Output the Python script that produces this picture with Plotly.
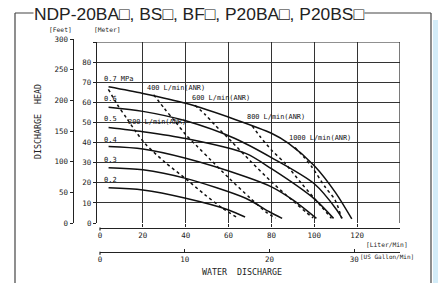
import plotly.graph_objects as go

# ---------------- data (L/min , metre) ----------------
p07_flow = [4, 20, 40, 63, 80, 88, 100, 110, 117.5]
p07_head = [67.7, 64.4, 59.5, 51.5, 44.6, 39.6, 28.5, 15, 2]
p06_flow = [4, 20, 40, 63, 80, 100, 110.5, 113]
p06_head = [57.5, 55.5, 50.8, 42, 32.5, 19.5, 6.5, 2.3]
p05_flow = [4, 20, 40, 68, 80, 100, 109]
p05_head = [47.5, 45.4, 42, 34.6, 27, 12, 2.3]
p04_flow = [4, 20, 40, 68, 80, 90, 101]
p04_head = [38, 36.8, 32.2, 23, 18, 11.5, 2.3]
p03_flow = [4, 20, 40, 68, 79, 85]
p03_head = [27.5, 26.5, 22.2, 12.3, 5.6, 2.3]
p02_flow = [4, 20, 40, 60, 67.7]
p02_head = [17.5, 16.4, 12.3, 6.5, 3]

a200_flow = [3.9, 8, 12.5, 17, 21, 30, 40, 49, 57, 63.5]
a200_head = [66.5, 59, 52, 45, 39.5, 30.5, 22, 14, 7.5, 3]
a400_flow = [25, 30, 35, 40, 45, 52, 60, 70, 78, 82]
a400_head = [63.8, 57, 50.5, 44, 38.5, 31, 22.5, 12.5, 5, 2.5]
a600_flow = [44.3, 49, 53.7, 61.5, 70, 80, 90, 96, 99.5]
a600_head = [58.5, 54, 48.7, 40.4, 31, 20.5, 11, 5.5, 2.5]
a800_flow = [71, 74.7, 80, 86.3, 94, 103.4, 108]
a800_head = [48.3, 43, 36.3, 29.7, 19.7, 8.1, 2.3]
a1000_flow = [91, 95, 98.8, 105, 109.7, 112.8]
a1000_head = [37.5, 33, 28, 18, 11.4, 2.3]

pressure_labels = ["0.7 MPa", "0.6", "0.5", "0.4", "0.3", "0.2"]
pressure_label_head = [70, 60, 50, 40, 30, 20]
air_labels = ["200 L/min(ANR)", "400 L/min(ANR)", "600 L/min(ANR)",
              "800 L/min(ANR)", "1000 L/min(ANR)"]
air_label_flow = [12.1, 21, 42, 67.7, 87.3]
air_label_head = [50.4, 67.1, 62, 52.9, 42.1]

meter_ticks = [0, 10, 20, 30, 40, 50, 60, 70, 80, 90]
feet_ticks = [0, 50, 100, 150, 200, 250, 300]
lpm_ticks = [0, 20, 40, 60, 80, 100, 120, 140]
gpm_ticks = [0, 10, 20, 30]
title_text = "NDP-20BA□, BS□, BF□, P20BA□, P20BS□"

# ---------------- geometry helpers ----------------
W, H = 438, 283

def px(x):
    return x / W

def py(y):
    return 1 - y / H

Y0, Y90 = 223.0, 42.0
pxm = (Y0 - Y90) / 90.0
y_feet_top = Y0 - 300 * 0.3048 * pxm
INK = "#111111"
MONO = "DejaVu Sans Mono"
CLEAR = "rgba(0,0,0,0)"

fig = go.Figure()

solid = [(p07_flow, p07_head), (p06_flow, p06_head), (p05_flow, p05_head),
         (p04_flow, p04_head), (p03_flow, p03_head), (p02_flow, p02_head)]
for fx, hy in solid:
    fig.add_trace(go.Scatter(x=fx, y=hy, mode="lines", xaxis="x", yaxis="y",
                             line=dict(color=INK, width=1.5, shape="spline", smoothing=0.8),
                             hoverinfo="skip", showlegend=False))
dashed = [(a200_flow, a200_head), (a400_flow, a400_head), (a600_flow, a600_head),
          (a800_flow, a800_head), (a1000_flow, a1000_head)]
for fx, hy in dashed:
    fig.add_trace(go.Scatter(x=fx, y=hy, mode="lines", xaxis="x", yaxis="y",
                             line=dict(color=INK, width=1.5, dash="3px,3px",
                                       shape="spline", smoothing=0.8),
                             hoverinfo="skip", showlegend=False))

# empty traces that host the extra axes
fig.add_trace(go.Scatter(x=[None], y=[None], xaxis="x2", yaxis="y3", showlegend=False))
fig.add_trace(go.Scatter(x=[None], y=[None], xaxis="x3", yaxis="y3", showlegend=False))
fig.add_trace(go.Scatter(x=[None], y=[None], xaxis="x4", yaxis="y2", showlegend=False))

tickfont = dict(family=MONO, size=7.5, color="#222")
axline = dict(showline=True, linecolor="#222", linewidth=1.2, ticks="outside",
              ticklen=3, tickcolor="#222", tickwidth=1.2, zeroline=False, tickfont=tickfont)
xaxline = dict(axline, ticks="inside", ticklen=3)

yb, yt = py(Y0), py(Y90)
fig.update_layout(
    width=W, height=H, margin=dict(l=0, r=0, t=0, b=0, autoexpand=False),
    paper_bgcolor="white", plot_bgcolor=CLEAR, showlegend=False,
    xaxis=dict(domain=[px(97), px(400)], range=[-1.4, 140], anchor="y",
               tickvals=lpm_ticks[1:-1], showticklabels=False, ticks="",
               showgrid=True, gridcolor="#333", gridwidth=1.1, zeroline=False, showline=False),
    yaxis=dict(domain=[yb, yt], range=[0, 90], anchor="x",
               tickvals=meter_ticks, ticktext=[str(v) for v in meter_ticks[:-1]] + [""],
               showgrid=True, gridcolor="#333", gridwidth=1.1, **axline),
    yaxis2=dict(domain=[yb, py(y_feet_top)], range=[0, 300], anchor="free",
                position=px(72.7), tickvals=feet_ticks, showgrid=False, **axline),
    xaxis4=dict(domain=[px(97), px(400)], range=[0, 140], anchor="y2", visible=False),
    yaxis3=dict(domain=[yb, yt], range=[0, 90], anchor="x2", visible=False),
    xaxis2=dict(domain=[px(100), px(400)], range=[0, 140], anchor="free",
                position=py(227.5), tickvals=lpm_ticks,
                ticktext=[str(v) for v in lpm_ticks[:-1]] + [""], showgrid=False, **xaxline),
    xaxis3=dict(domain=[px(100), px(400)], range=[0, 35.4], anchor="free",
                position=py(251.7), tickvals=gpm_ticks, showgrid=False, **xaxline),
)

shapes = [
    # top and right border of the grid
    dict(type="line", xref="x", yref="y", x0=-1.4, x1=140, y0=90, y1=90,
         line=dict(color="#222", width=1.2), layer="above"),
    dict(type="line", xref="x", yref="y", x0=140, x1=140, y0=0, y1=90,
         line=dict(color="#222", width=1.2), layer="above"),
    # small end hooks of the two flow axes
    dict(type="line", xref="paper", yref="paper", x0=px(100), x1=px(100), y0=py(227.5), y1=py(230.5),
         line=dict(color="#222", width=1.2)),
    dict(type="line", xref="paper", yref="paper", x0=px(100), x1=px(100), y0=py(251.7), y1=py(254.7),
         line=dict(color="#222", width=1.2)),
    # outer frame
    dict(type="line", xref="paper", yref="paper", x0=px(15), x1=px(15), y0=py(13), y1=py(283),
         line=dict(color="#444", width=1.2)),
    dict(type="line", xref="paper", yref="paper", x0=px(431), x1=px(431), y0=py(13), y1=py(283),
         line=dict(color="#444", width=1.2)),
    dict(type="line", xref="paper", yref="paper", x0=px(15), x1=px(431), y0=py(13), y1=py(13),
         line=dict(color="#444", width=1.2)),
    # light blue strip
    dict(type="rect", xref="paper", yref="paper", x0=px(433), x1=px(438), y0=py(20), y1=py(283),
         line=dict(width=0), fillcolor="#d3ecf8"),
]
fig.update_layout(shapes=shapes)

ann = []
ann.append(dict(text=title_text, xref="paper", yref="paper", x=px(199), y=py(13.5),
                showarrow=False, xanchor="center", yanchor="middle", bgcolor="white",
                borderpad=0, font=dict(family="Liberation Sans, Arial", size=17.4, color="#222")))
for t, h in zip(pressure_labels, pressure_label_head):
    ann.append(dict(text=t, xref="x", yref="y", x=0.8, y=h, xanchor="left", yanchor="middle",
                    yshift=3, showarrow=False, font=dict(family=MONO, size=7.0, color=INK)))
for t, fx, hy in zip(air_labels, air_label_flow, air_label_head):
    ann.append(dict(text=t, xref="x", yref="y", x=fx, y=hy, xanchor="left", yanchor="middle",
                    showarrow=False, font=dict(family=MONO, size=6.9, color=INK)))
small = dict(family=MONO, size=6.3, color="#222")
ann += [
    dict(text="[Feet]", xref="paper", yref="paper", x=px(60), y=py(29), showarrow=False,
         xanchor="center", yanchor="middle", font=small),
    dict(text="[Meter]", xref="paper", yref="paper", x=px(107.5), y=py(29), showarrow=False,
         xanchor="center", yanchor="middle", font=small),
    dict(text="[Liter/Min]", xref="paper", yref="paper", x=px(410), y=py(244), showarrow=False,
         xanchor="right", yanchor="middle", font=small),
    dict(text="[US Gallon/Min]", xref="paper", yref="paper", x=px(416), y=py(256), showarrow=False,
         xanchor="right", yanchor="middle", font=dict(family=MONO, size=6.0, color="#222")),
    dict(text="DISCHARGE  HEAD", xref="paper", yref="paper", x=px(38), y=py(122), showarrow=False,
         textangle=-90, xanchor="center", yanchor="middle",
         font=dict(family=MONO, size=8.3, color="#222")),
    dict(text="WATER  DISCHARGE", xref="paper", yref="paper", x=px(241.7), y=py(272), showarrow=False,
         xanchor="center", yanchor="middle", font=dict(family=MONO, size=8.3, color="#222")),
]
fig.update_layout(annotations=ann)

# remove the default 8px page margin so the 438x283 figure fills the window
fig.write_html("out.html", config={"displayModeBar": False},
               post_script="document.body.style.margin='0px';")
